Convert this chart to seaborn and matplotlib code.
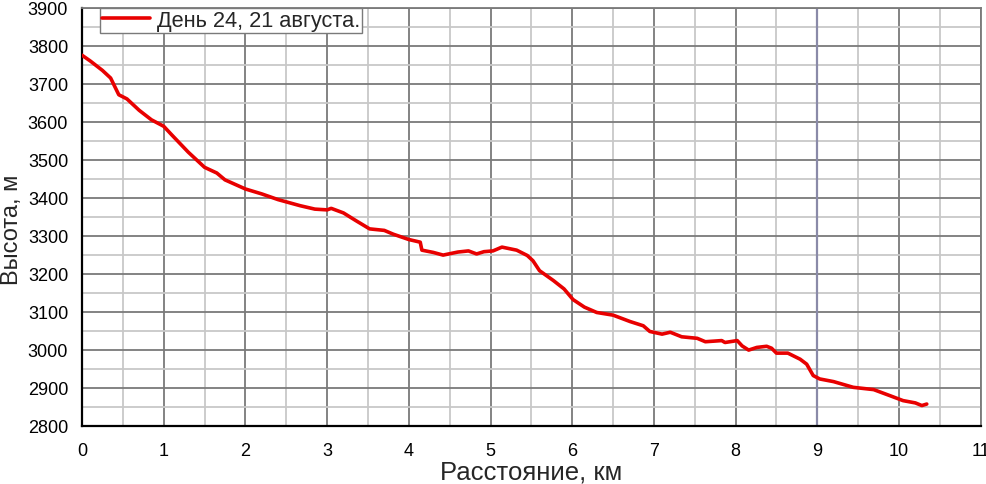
import matplotlib
matplotlib.use("Agg")
import matplotlib.pyplot as plt
import numpy as np
import pandas as pd
import seaborn as sns
from matplotlib.ticker import MultipleLocator

distance_km = [
    0.0, 0.1, 0.25, 0.35, 0.45, 0.55, 0.7, 0.85, 1.0, 1.1, 1.3, 1.5, 1.65, 1.75,
    2.0, 2.2, 2.4, 2.67, 2.85, 3.0, 3.05, 3.2, 3.35, 3.52, 3.7, 3.81, 4.0, 4.14,
    4.16, 4.3, 4.42, 4.6, 4.73, 4.83, 4.92, 5.03, 5.14, 5.32, 5.45, 5.52, 5.6,
    5.77, 5.9, 6.01, 6.15, 6.3, 6.5, 6.71, 6.87, 6.95, 7.1, 7.2, 7.34, 7.53,
    7.63, 7.83, 7.87, 8.02, 8.08, 8.16, 8.26, 8.38, 8.44, 8.5, 8.64, 8.79, 8.87,
    8.95, 9.03, 9.2, 9.44, 9.69, 9.89, 10.05, 10.2, 10.28, 10.34,
]
altitude_m = [
    3775, 3760, 3735, 3715, 3671, 3660, 3630, 3605, 3588, 3565, 3520, 3480,
    3465, 3447, 3423, 3410, 3395, 3379, 3370, 3368, 3372, 3360, 3340, 3318,
    3314, 3304, 3290, 3283, 3262, 3256, 3249, 3257, 3260, 3252, 3258, 3260,
    3270, 3262, 3248, 3234, 3208, 3182, 3160, 3132, 3112, 3098, 3091, 3074,
    3063, 3048, 3041, 3046, 3034, 3030, 3021, 3024, 3019, 3024, 3010, 2999,
    3006, 3009, 3004, 2991, 2991, 2975, 2962, 2932, 2923, 2916, 2901, 2895,
    2879, 2866, 2860, 2853, 2857,
]
series_label = "День 24, 21 августа."
x_label = "Расстояние, км"
y_label = "Высота, м"
marker_km = 9

profile = pd.DataFrame({"km": distance_km, "alt": altitude_m, "series": series_label})

sns.set_style("white")
plt.rcParams["font.family"] = ["Liberation Sans", "DejaVu Sans"]

fig = plt.figure(figsize=(9.87, 4.85), dpi=100)
ax = fig.add_axes([0.0831, 0.1202, 0.9105, 0.8618])

ax.set_xlim(0, 11)
ax.set_ylim(2800, 3900)
ax.xaxis.set_major_locator(MultipleLocator(1))
ax.xaxis.set_minor_locator(MultipleLocator(0.5))
ax.yaxis.set_major_locator(MultipleLocator(100))
ax.yaxis.set_minor_locator(MultipleLocator(50))

ax.grid(which="major", color="#7a7a7a", linewidth=1.3)
ax.grid(which="minor", color="#c8c8c8", linewidth=1.3)
ax.axvline(marker_km, color="#8a8aa8", linewidth=1.6, zorder=1)
ax.set_axisbelow(True)

sns.lineplot(
    data=profile, x="km", y="alt", hue="series",
    palette=["#e80000"], linewidth=2.6, ax=ax, zorder=3
)

for side in ("top", "right"):
    ax.spines[side].set_color("#7a7a7a")
    ax.spines[side].set_linewidth(1.3)
for side in ("left", "bottom"):
    ax.spines[side].set_color("black")
    ax.spines[side].set_linewidth(1.6)

ax.tick_params(axis="x", which="major", direction="in", length=8, width=1.4,
               labelsize=13, pad=12, colors="black")
ax.tick_params(axis="x", which="minor", direction="inout", length=7, width=1.2)
ax.tick_params(axis="y", which="major", direction="inout", length=16, width=1.4,
               labelsize=13, pad=2, colors="black")
ax.tick_params(axis="y", which="minor", direction="inout", length=9, width=1.2)

ax.set_xlabel(x_label, fontsize=18.5, labelpad=0)
ax.set_ylabel(y_label, fontsize=17)
ax.yaxis.set_label_coords(-0.0655, 0.47)

handles, labels = ax.get_legend_handles_labels()
ax.legend(
    handles, labels, loc="upper left", bbox_to_anchor=(0.02, 1.0),
    fontsize=15.7, frameon=True, fancybox=False, framealpha=1,
    edgecolor="#7a7a7a", borderpad=0.1, handlelength=2.2,
    handletextpad=0.3, borderaxespad=0.0
)

fig.savefig("out.png", dpi=100)
